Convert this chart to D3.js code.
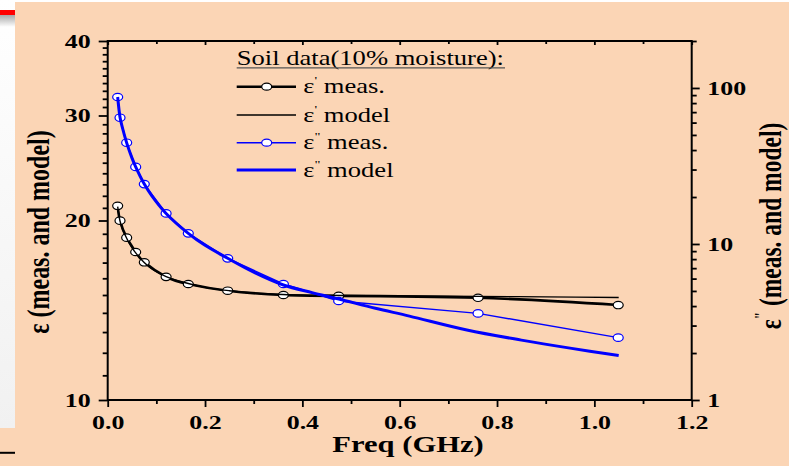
<!DOCTYPE html>
<html><head><meta charset="utf-8">
<script src="https://cdn.jsdelivr.net/npm/d3@7"></script>
<style>html,body{margin:0;padding:0;background:#fff;overflow:hidden;} svg{display:block;}</style>
</head><body><svg id="chart" width="789" height="466"></svg>
<script>
// Soil permittivity at 10% moisture: measured points and model curves
const freqMeas = [0.0205, 0.0253, 0.039, 0.0575, 0.0752, 0.120, 0.1656, 0.2466, 0.361, 0.4746, 0.761, 1.049];
const epsRealMeas = [21.17, 19.99, 18.72, 17.71, 17.02, 16.09, 15.65, 15.25, 15.00, 14.95, 14.84, 14.43];
const epsImagMeas = [87.5, 64.5, 44.6, 31.2, 24.2, 15.7, 11.7, 8.09, 5.54, 4.31, 3.59, 2.51];

const freqModelReal = [0.0205, 0.025, 0.03, 0.04, 0.05, 0.06, 0.075, 0.09, 0.12, 0.15, 0.2, 0.25, 0.3, 0.36, 0.42, 0.48, 0.6, 0.76, 0.9, 1.05];
const epsRealModel = [21.1, 20.0, 19.4, 18.6, 18.0, 17.55, 17.0, 16.6, 16.1, 15.8, 15.45, 15.25, 15.12, 15.03, 14.99, 14.97, 14.95, 14.92, 14.89, 14.86];

const freqModelImag = [0.0205, 0.0253, 0.03, 0.039, 0.05, 0.0575, 0.0752, 0.09, 0.12, 0.1656, 0.2, 0.2466, 0.3, 0.361, 0.42, 0.475, 0.55, 0.62, 0.738, 0.85, 0.95, 1.05];
const epsImagModel = [87.5, 65.0, 56.0, 44.5, 35.5, 31.2, 24.2, 20.5, 15.7, 11.7, 9.8, 8.1, 6.6, 5.46, 4.88, 4.44, 3.87, 3.45, 2.81, 2.42, 2.15, 1.93];

const xTickValues = [0, 0.2, 0.4, 0.6, 0.8, 1.0, 1.2];
const xMinorValues = [0.1, 0.3, 0.5, 0.7, 0.9, 1.1];
const leftTickValues = [10, 20, 30, 40];
const leftMinorValues = [11,12,13,14,15,16,17,18,19,21,22,23,24,25,26,27,28,29,31,32,33,34,35,36,37,38,39];
const rightTickValues = [1, 10, 100];
const rightMinorValues = [2,3,4,5,6,7,8,9,20,30,40,50,60,70,80,90,200];

const legendTitle = "Soil data(10% moisture):";
const legendItems = [
  {sup: "'", label: " meas.", color: "#000", width: 2.6, marker: true},
  {sup: "'", label: " model", color: "#000", width: 1.4, marker: false},
  {sup: "\"", label: " meas.", color: "#0000ff", width: 1.4, marker: true},
  {sup: "\"", label: " model", color: "#0000ff", width: 3, marker: false}
];

const SX = 1.33;            // horizontal stretch of the lettering and markers
const serif = "'Liberation Serif', 'Times New Roman', serif";
const W = 789, H = 466;
const plot = {left: 107.7, right: 691.7, top: 41, bottom: 400};

const svg = d3.select("#chart");

// page background
svg.append("rect").attr("x", 0).attr("y", 0).attr("width", W).attr("height", H).attr("fill", "#fbd5b5");
svg.append("rect").attr("x", 0).attr("y", 0).attr("width", W).attr("height", 2).attr("fill", "#ffffff");
const defs = svg.append("defs");
const g1 = defs.append("linearGradient").attr("id", "strip").attr("x1", 0).attr("y1", 0).attr("x2", 0).attr("y2", 1);
g1.append("stop").attr("offset", "0").attr("stop-color", "#ffffff");
g1.append("stop").attr("offset", "1").attr("stop-color", "#f1f1f1");
const g2 = defs.append("linearGradient").attr("id", "shade").attr("x1", 0).attr("y1", 0).attr("x2", 0).attr("y2", 1);
g2.append("stop").attr("offset", "0").attr("stop-color", "#a8a8a8");
g2.append("stop").attr("offset", "1").attr("stop-color", "#ffffff");
svg.append("rect").attr("x", 0).attr("y", 0).attr("width", 15).attr("height", 428).attr("fill", "url(#strip)");
svg.append("rect").attr("x", 0).attr("y", 15).attr("width", 15).attr("height", 12).attr("fill", "url(#shade)");
svg.append("rect").attr("x", 0).attr("y", 10).attr("width", 15).attr("height", 5).attr("fill", "#ff0000");
svg.append("rect").attr("x", 0).attr("y", 451.8).attr("width", 15).attr("height", 2).attr("fill", "#000");

// scales
const x = d3.scaleLinear().domain([0, 1.2]).range([plot.left, plot.right]);
const yL = d3.scaleLog().domain([10, 40]).range([plot.bottom, plot.top]);
const yR = d3.scaleLog().domain([1, 200]).range([plot.bottom, plot.top]);

function styleAxis(g) {
  g.select(".domain").remove();
  g.attr("font-family", serif).attr("font-size", 19.5).attr("font-weight", "bold");
  g.selectAll("line").attr("stroke", "#000").attr("stroke-width", 1.8);
  g.selectAll("text").attr("fill", "#000");
}

// bottom axis
svg.append("g").attr("transform", `translate(0,${plot.bottom})`)
  .call(d3.axisBottom(x).tickValues(xTickValues).tickFormat(d3.format(".1f")).tickSize(7).tickPadding(8))
  .call(styleAxis)
  .call(g => g.selectAll("text").attr("transform", `scale(${SX},1)`));
svg.append("g").attr("transform", `translate(0,${plot.bottom})`)
  .call(d3.axisBottom(x).tickValues(xMinorValues).tickFormat("").tickSize(4))
  .call(styleAxis);
// top mirror ticks (inward)
svg.append("g").attr("transform", `translate(0,${plot.top})`)
  .call(d3.axisBottom(x).tickValues(xTickValues).tickFormat("").tickSize(4))
  .call(styleAxis);
svg.append("g").attr("transform", `translate(0,${plot.top})`)
  .call(d3.axisBottom(x).tickValues(xMinorValues).tickFormat("").tickSize(3))
  .call(styleAxis);

// left axis
svg.append("g").attr("transform", `translate(${plot.left},0)`)
  .call(d3.axisLeft(yL).tickValues(leftTickValues).tickFormat(d3.format("d")).tickSize(9).tickPadding(3.8))
  .call(styleAxis)
  .call(g => g.selectAll("text").attr("transform", `scale(${SX},1)`));
svg.append("g").attr("transform", `translate(${plot.left},0)`)
  .call(d3.axisLeft(yL).tickValues(leftMinorValues).tickFormat("").tickSize(5))
  .call(styleAxis);

// right axis
svg.append("g").attr("transform", `translate(${plot.right},0)`)
  .call(d3.axisRight(yR).tickValues(rightTickValues).tickFormat(d3.format("d")).tickSize(8).tickPadding(3.7))
  .call(styleAxis)
  .call(g => g.selectAll("text").attr("transform", `scale(${SX},1)`));
svg.append("g").attr("transform", `translate(${plot.right},0)`)
  .call(d3.axisRight(yR).tickValues(rightMinorValues).tickFormat("").tickSize(5))
  .call(styleAxis);

// frame
svg.append("rect").attr("x", plot.left).attr("y", plot.top)
  .attr("width", plot.right - plot.left).attr("height", plot.bottom - plot.top)
  .attr("fill", "none").attr("stroke", "#000").attr("stroke-width", 2);

// series
const realMeas = freqMeas.map((f, i) => [f, epsRealMeas[i]]);
const imagMeas = freqMeas.map((f, i) => [f, epsImagMeas[i]]);
const realModel = freqModelReal.map((f, i) => [f, epsRealModel[i]]);
const imagModel = freqModelImag.map((f, i) => [f, epsImagModel[i]]);

const lineL = d3.line().x(d => x(d[0])).y(d => yL(d[1]));
const lineR = d3.line().x(d => x(d[0])).y(d => yR(d[1]));

function markers(data, yScale, color) {
  svg.append("g").selectAll("ellipse").data(data).join("ellipse")
    .attr("cx", d => x(d[0])).attr("cy", d => yScale(d[1]))
    .attr("rx", 5).attr("ry", 3.7)
    .attr("fill", "#fff").attr("stroke", color).attr("stroke-width", 1.2);
}

// ε' measured (thick, smoothed) + markers, then ε' model
svg.append("path").attr("d", lineL.curve(d3.curveNatural)(realMeas))
  .attr("fill", "none").attr("stroke", "#000").attr("stroke-width", 2.6);
markers(realMeas, yL, "#000");
svg.append("path").attr("d", lineL.curve(d3.curveCatmullRom)(realModel))
  .attr("fill", "none").attr("stroke", "#000").attr("stroke-width", 1.4);

// ε'' measured (thin, straight) + markers, then ε'' model
svg.append("path").attr("d", lineR.curve(d3.curveLinear)(imagMeas))
  .attr("fill", "none").attr("stroke", "#0000ff").attr("stroke-width", 1.4);
markers(imagMeas, yR, "#0000ff");
svg.append("path").attr("d", lineR.curve(d3.curveCatmullRom)(imagModel))
  .attr("fill", "none").attr("stroke", "#0000ff").attr("stroke-width", 3);

// legend
const lg = svg.append("g");
lg.append("text").attr("transform", `translate(236.7,65) scale(${SX},1)`)
  .attr("font-family", serif).attr("font-size", 20).attr("fill", "#000").text(legendTitle);
lg.append("line").attr("x1", 236.7).attr("x2", 505).attr("y1", 67.8).attr("y2", 67.8)
  .attr("stroke", "#555").attr("stroke-width", 1.3);
const rowY = [86.7, 115, 142.7, 170];
legendItems.forEach((it, i) => {
  const y = rowY[i];
  lg.append("line").attr("x1", 236.7).attr("x2", 296).attr("y1", y).attr("y2", y)
    .attr("stroke", it.color).attr("stroke-width", it.width);
  if (it.marker) {
    lg.append("ellipse").attr("cx", 266.7).attr("cy", y).attr("rx", 5).attr("ry", 3.5)
      .attr("fill", "#fff").attr("stroke", it.color).attr("stroke-width", 1.2);
  }
  const t = lg.append("text").attr("transform", `translate(303.3,${y + 6.5}) scale(${SX},1)`)
    .attr("font-family", serif).attr("font-size", 20).attr("fill", "#000");
  t.append("tspan").text("ε");
  t.append("tspan").attr("font-size", 11).attr("dy", -9).text(it.sup);
  t.append("tspan").attr("dy", 9).text(it.label);
});

// axis titles
svg.append("text").attr("transform", `translate(408,452) scale(${SX},1)`)
  .attr("text-anchor", "middle").attr("font-family", serif).attr("font-size", 23)
  .attr("font-weight", "bold").attr("fill", "#000").text("Freq (GHz)");

svg.append("text").attr("transform", `translate(49,232) rotate(-90) scale(1,${SX})`)
  .attr("text-anchor", "middle").attr("font-family", serif).attr("font-size", 24)
  .attr("font-weight", "bold").attr("fill", "#000").text("ε (meas. and model)");

const rt = svg.append("text").attr("transform", `translate(781,226) rotate(-90) scale(1,${SX})`)
  .attr("text-anchor", "middle").attr("font-family", serif).attr("font-size", 23.5)
  .attr("font-weight", "bold").attr("fill", "#000");
rt.append("tspan").text("ε");
rt.append("tspan").attr("font-size", 13).attr("dy", -11).text("\"");
rt.append("tspan").attr("dy", 11).text(" (meas. and model)");
</script></body></html>
